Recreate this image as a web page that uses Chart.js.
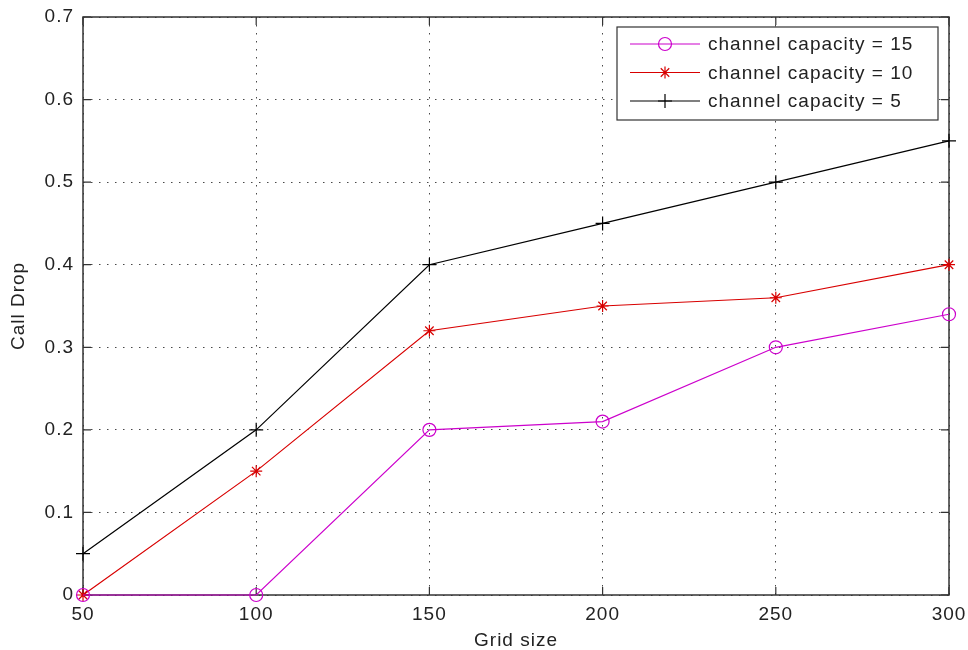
<!DOCTYPE html>
<html>
<head>
<meta charset="utf-8">
<script src="https://cdn.jsdelivr.net/npm/chart.js@4/dist/chart.umd.min.js"></script>
<style>
  body { margin: 0; background: #fff; }
  #wrap { width: 968px; height: 650px; }
</style>
</head>
<body>
<div id="wrap"><canvas id="myChart" width="968" height="650"></canvas></div>
<script>
const gridSizes = [50, 100, 150, 200, 250, 300];
const cap15 = [0, 0, 0.2, 0.21, 0.3, 0.34];
const cap10 = [0, 0.15, 0.32, 0.35, 0.36, 0.40];
const cap5 = [0.05, 0.2, 0.4, 0.45, 0.5, 0.55];
const seriesLabels = ["channel capacity = 15", "channel capacity = 10", "channel capacity = 5"];

const ctx = document.getElementById("myChart").getContext("2d");
const fontFamily = "'Liberation Sans', Arial, sans-serif";
Chart.defaults.font.family = fontFamily;
Chart.defaults.font.size = 19;
Chart.defaults.color = "#222";

function points(arr) {
  return gridSizes.map((x, i) => ({ x: x, y: arr[i] }));
}

function drawMarker(c, style, x, y, r, color) {
  c.save();
  c.strokeStyle = color;
  c.lineWidth = 1.2;
  c.beginPath();
  if (style === "circle") {
    c.arc(x, y, r, 0, Math.PI * 2);
  } else if (style === "star") {
    c.moveTo(x - r, y); c.lineTo(x + r, y);
    c.moveTo(x, y - r); c.lineTo(x, y + r);
    let d = r * 0.707;
    c.moveTo(x - d, y - d); c.lineTo(x + d, y + d);
    c.moveTo(x - d, y + d); c.lineTo(x + d, y - d);
  } else {
    c.moveTo(x - r, y); c.lineTo(x + r, y);
    c.moveTo(x, y - r); c.lineTo(x, y + r);
  }
  c.stroke();
  c.restore();
}

// letter spacing to get closer to the wide matlab font
const spacing = {
  id: "spacing",
  beforeLayout(chart) { chart.ctx.letterSpacing = "1px"; },
  beforeDraw(chart) { chart.ctx.letterSpacing = "1px"; }
};

// box round the axes with inward ticks on all sides
const boxTicks = {
  id: "boxTicks",
  beforeDatasetsDraw(chart) {
    const c = chart.ctx;
    const a = chart.chartArea;
    const xs = chart.scales.x;
    const ys = chart.scales.y;
    c.save();
    c.strokeStyle = "#333";
    c.lineWidth = 1.2;
    c.beginPath();
    xs.ticks.forEach((t) => {
      let px = xs.getPixelForValue(t.value);
      c.moveTo(px, a.bottom); c.lineTo(px, a.bottom - 8);
      c.moveTo(px, a.top); c.lineTo(px, a.top + 8);
    });
    ys.ticks.forEach((t) => {
      let py = ys.getPixelForValue(t.value);
      c.moveTo(a.left, py); c.lineTo(a.left + 8, py);
      c.moveTo(a.right, py); c.lineTo(a.right - 8, py);
    });
    c.stroke();
    c.lineWidth = 1.5;
    c.strokeRect(a.left, a.top, a.right - a.left, a.bottom - a.top);
    c.restore();
  }
};

const boxLegend = {
  id: "boxLegend",
  afterDatasetsDraw(chart) {
    const c = chart.ctx;
    const a = chart.chartArea;
    const x0 = a.right - 332;
    const y0 = a.top + 10;
    c.save();
    c.fillStyle = "#fff";
    c.fillRect(x0, y0, 321, 93);
    c.strokeStyle = "#333";
    c.lineWidth = 1.2;
    c.strokeRect(x0, y0, 321, 93);
    c.font = "19px " + fontFamily;
    c.letterSpacing = "1px";
    c.textBaseline = "middle";
    c.textAlign = "left";
    chart.data.datasets.forEach((ds, i) => {
      let y = y0 + 17 + i * 28.5;
      c.strokeStyle = ds.borderColor;
      c.lineWidth = 1.2;
      c.beginPath();
      c.moveTo(x0 + 13, y); c.lineTo(x0 + 83, y);
      c.stroke();
      drawMarker(c, ds.pointStyle, x0 + 48, y, ds.pointRadius, ds.borderColor);
      c.fillStyle = "#222";
      c.fillText(ds.label, x0 + 91, y + 1);
    });
    c.restore();
  }
};

const gridOpts = {
  color: "rgba(40,40,40,0.85)",
  lineWidth: 1,
  drawTicks: false
};

const myChart = new Chart(ctx, {
  type: "line",
  data: {
    datasets: [
      {
        label: seriesLabels[0],
        data: points(cap15),
        borderColor: "#cc00cc",
        pointStyle: "circle",
        pointRadius: 6.5,
        pointBorderWidth: 1.2,
        pointBackgroundColor: "rgba(0,0,0,0)",
        borderWidth: 1.2,
        clip: false
      },
      {
        label: seriesLabels[1],
        data: points(cap10),
        borderColor: "#d80000",
        pointStyle: "star",
        pointRadius: 6,
        pointBorderWidth: 1.2,
        borderWidth: 1.2,
        clip: false
      },
      {
        label: seriesLabels[2],
        data: points(cap5),
        borderColor: "#000",
        pointStyle: "cross",
        pointRadius: 7,
        pointBorderWidth: 1.2,
        borderWidth: 1.2,
        clip: false
      }
    ]
  },
  options: {
    responsive: false,
    animation: false,
    events: [],
    layout: { padding: { left: 0, top: 17, right: 19, bottom: 0 } },
    plugins: { legend: { display: false }, tooltip: { enabled: false } },
    scales: {
      x: {
        type: "linear",
        min: 50,
        max: 300,
        ticks: { stepSize: 50, padding: 8 },
        grid: gridOpts,
        border: { display: false, dash: [1.5, 6.5] },
        title: { display: true, text: "Grid size", padding: { top: 0, bottom: 0 }, font: { size: 19, lineHeight: 1 } },
        afterFit(scale) {
          scale.height = 55;
          scale.paddingLeft = 0;
          scale.paddingRight = 0;
        }
      },
      y: {
        min: 0,
        max: 0.7,
        ticks: {
          stepSize: 0.1,
          padding: 9,
          callback: (v) => (v === 0 ? "0" : v.toFixed(1))
        },
        grid: gridOpts,
        border: { display: false, dash: [1.5, 6.5] },
        title: { display: true, text: "Call Drop", padding: { top: 9, bottom: 0 }, font: { size: 19, lineHeight: 1 } },
        afterFit(scale) {
          scale.width = 83;
          scale.paddingTop = 0;
          scale.paddingBottom = 0;
        }
      }
    }
  },
  plugins: [spacing, boxTicks, boxLegend]
});
</script>
</body>
</html>
